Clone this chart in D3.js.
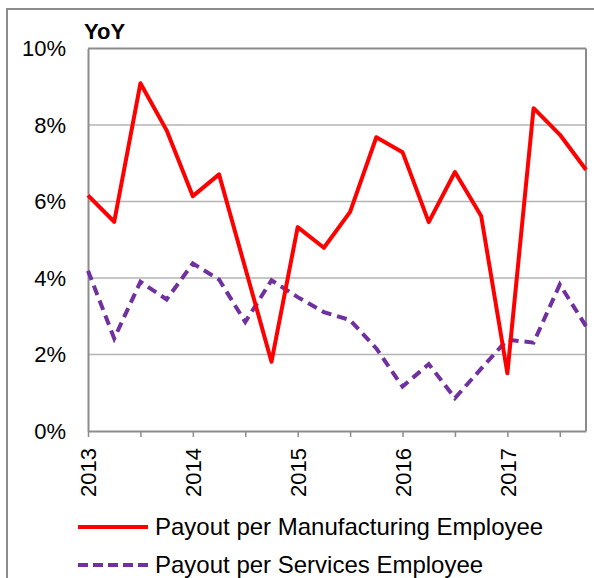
<!DOCTYPE html>
<html>
<head>
<meta charset="utf-8">
<script src="https://cdn.jsdelivr.net/npm/d3@7"></script>
<style>
    body { margin: 0; background: #fff; }
    svg { display: block; font-family: 'Liberation Sans', Arial, sans-serif; }
</style>
</head>
<body>
<div id="chart"></div>
<script>
// quarterly YoY growth, 2013Q1 .. 2017Q4
const quarters = ['2013Q1', '2013Q2', '2013Q3', '2013Q4', '2014Q1', '2014Q2', '2014Q3', '2014Q4',
    '2015Q1', '2015Q2', '2015Q3', '2015Q4', '2016Q1', '2016Q2', '2016Q3', '2016Q4',
    '2017Q1', '2017Q2', '2017Q3', '2017Q4'];
const manufacturing = [6.16, 5.47, 9.09, 7.86, 6.14, 6.71, 4.26, 1.81, 5.33, 4.79,
    5.73, 7.68, 7.29, 5.46, 6.77, 5.62, 1.51, 8.44, 7.75, 6.83];
const services = [4.19, 2.42, 3.90, 3.44, 4.38, 3.96, 2.85, 3.94, 3.50, 3.11,
    2.90, 2.16, 1.16, 1.75, 0.86, 1.63, 2.39, 2.31, 3.83, 2.74];
const yTicks = [0, 2, 4, 6, 8, 10];
const seriesNames = ['Payout per Manufacturing Employee', 'Payout per Services Employee'];

const width = 594;
const height = 578;
const plot = {left: 88, right: 586, top: 48.5, bottom: 431};

const svg = d3.select('#chart')
    .append('svg')
    .attr('width', width)
    .attr('height', height);

// outer frame (runs off the picture on right and bottom)
svg.append('path')
    .attr('d', 'M7,' + height + 'V9H' + width)
    .attr('fill', 'none')
    .attr('stroke', '#8c8c8c')
    .attr('stroke-width', 2);

const x = d3.scalePoint()
    .domain(quarters)
    .range([plot.left, plot.right]);

const y = d3.scaleLinear()
    .domain([0, 10])
    .range([plot.bottom, plot.top]);

// gridlines
svg.append('g')
    .selectAll('line')
    .data(yTicks.filter(d => d > 0))
    .enter()
    .append('line')
        .attr('x1', plot.left)
        .attr('x2', plot.right)
        .attr('y1', d => y(d))
        .attr('y2', d => y(d))
        .attr('stroke', d => d == 10 ? '#8c8c8c' : '#b4b4b4')
        .attr('stroke-width', d => d == 10 ? 2 : 1.5);

// right border
svg.append('line')
    .attr('x1', plot.right).attr('x2', plot.right)
    .attr('y1', plot.top).attr('y2', plot.bottom)
    .attr('stroke', '#8c8c8c')
    .attr('stroke-width', 2);

// y axis
const yAxis = svg.append('g')
    .attr('transform', 'translate(' + plot.left + ',0)')
    .call(d3.axisLeft(y).tickValues(yTicks).tickSize(0).tickPadding(22).tickFormat(d => d + '%'));
yAxis.select('.domain').attr('stroke', '#8c8c8c').attr('stroke-width', 2);
yAxis.selectAll('text')
    .attr('fill', '#000')
    .style('font-size', '22px');

// x axis, ticks every half year, labels on the years
const xAxis = svg.append('g')
    .attr('transform', 'translate(0,' + plot.bottom + ')')
    .call(d3.axisBottom(x)
        .tickValues(quarters.filter((q, i) => i % 2 == 0))
        .tickSize(6)
        .tickSizeOuter(0)
        .tickFormat(q => q.endsWith('Q1') ? q.slice(0, 4) : ''));
xAxis.select('.domain').attr('stroke', '#8c8c8c').attr('stroke-width', 2);
xAxis.selectAll('line').attr('stroke', '#8c8c8c').attr('stroke-width', 1.5);
xAxis.selectAll('text')
    .attr('fill', '#000')
    .style('font-size', '22px')
    .attr('text-anchor', 'end')
    .attr('transform', 'rotate(-90)')
    .attr('x', -17)
    .attr('y', 0)
    .attr('dy', '0.35em');

// title
svg.append('text')
    .attr('x', 84)
    .attr('y', 39)
    .style('font-size', '22px')
    .style('font-weight', 700)
    .text('YoY');

const line = d3.line()
    .x((d, i) => x(quarters[i]))
    .y(d => y(d));

svg.append('path')
    .datum(services)
    .attr('d', line)
    .attr('fill', 'none')
    .attr('stroke', '#7030a0')
    .attr('stroke-width', 4)
    .attr('stroke-dasharray', '10,6');

svg.append('path')
    .datum(manufacturing)
    .attr('d', line)
    .attr('fill', 'none')
    .attr('stroke', '#ff0000')
    .attr('stroke-width', 4)
    .attr('stroke-linejoin', 'round');

// legend
const legend = svg.append('g').selectAll('g')
    .data(seriesNames)
    .enter()
    .append('g')
        .attr('transform', (d, i) => 'translate(78,' + (527 + i * 38) + ')');

legend.append('line')
    .attr('x1', 0)
    .attr('x2', 70)
    .attr('stroke', (d, i) => i == 0 ? '#ff0000' : '#7030a0')
    .attr('stroke-width', 4)
    .attr('stroke-dasharray', (d, i) => i == 0 ? null : '10,5');

legend.append('text')
    .attr('x', 77)
    .attr('dy', '0.35em')
    .style('font-size', '24px')
    .text(d => d);
</script>
</body>
</html>
